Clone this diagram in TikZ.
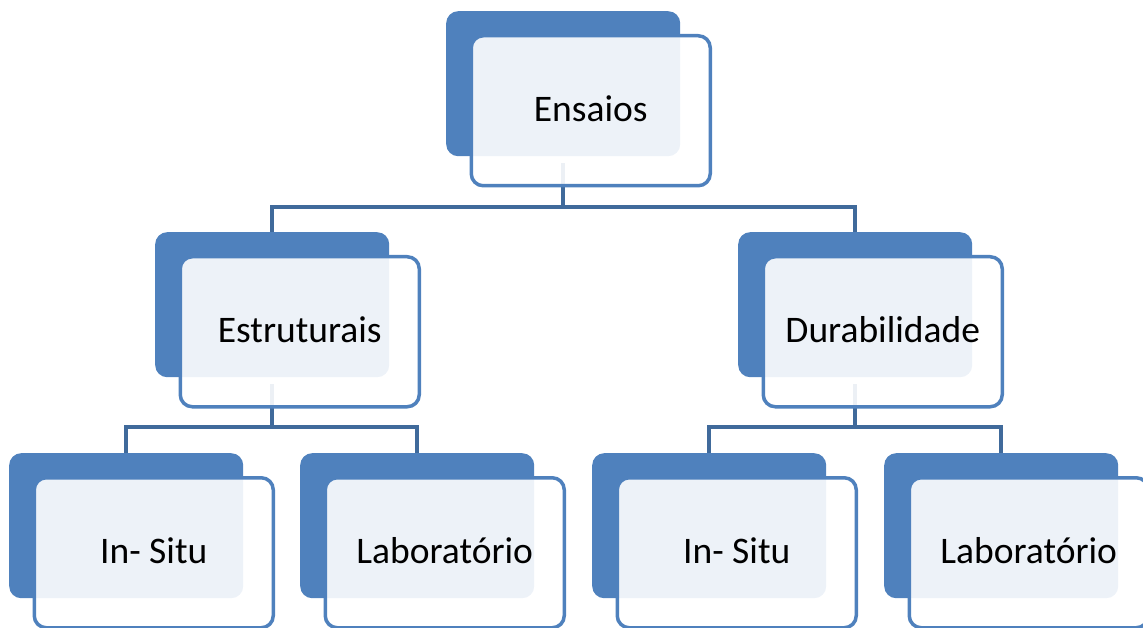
\documentclass[tikz,border=0pt]{standalone}
\usepackage{fontspec}
\setmainfont{Carlito}
\definecolor{accblue}{RGB}{79,129,189}
\definecolor{connblue}{RGB}{64,106,155}
\tikzset{
  backbox/.style={rectangle, rounded corners=12pt, fill=accblue, draw=none,
    minimum width=234pt, minimum height=145pt, anchor=north west, inner sep=0pt},
  frontbox/.style={rectangle, rounded corners=12pt, fill=white, fill opacity=0.9,
    text opacity=1, draw=accblue, line width=3.5pt,
    minimum width=239pt, minimum height=150pt, anchor=north west, inner sep=0pt,
    font=\fontsize{37.5}{44}\selectfont, text=black},
  frontlabel/.style={inner sep=0pt, font=\fontsize{37.5}{44}\selectfont, text=black},
  conn/.style={draw=connblue, line width=4.5pt}
}
\newcommand\sabox[4]{%
  \node[backbox] (#1b) at (#2,#3) {};
}
\newcommand\safront[4]{%
  \node[frontbox] (#1f) at (#2+23.5,#3+23) {};
  \node[frontlabel] (#1t) at ([yshift=2pt]#1f.center) {#4};
}
\begin{document}
\begin{tikzpicture}[x=1pt,y=-1pt]
\useasboundingbox (0,0) rectangle (1143,628);
% back rectangles
\sabox{e}{446}{11}{}
\sabox{s}{155}{232}{}
\sabox{d}{738}{232}{}
\sabox{a}{9}{453}{}
\sabox{b}{300}{453}{}
\sabox{c}{592}{453}{}
\sabox{f}{884}{453}{}
% bus levels
\coordinate (bus1) at (0,207);
\coordinate (bus2) at (0,427);
% connectors
\draw[conn] ([yshift=-7pt]eb.south) -- (eb.south |- bus1) -| (sb.north);
\draw[conn] (eb.south |- bus1) -| (db.north);
\draw[conn] ([yshift=-7pt]sb.south) -- (sb.south |- bus2) -| (ab.north);
\draw[conn] (sb.south |- bus2) -| (bb.north);
\draw[conn] ([yshift=-7pt]db.south) -- (db.south |- bus2) -| (cb.north);
\draw[conn] (db.south |- bus2) -| (fb.north);
% front rectangles
\safront{e}{446}{11}{Ensaios}
\safront{s}{155}{232}{Estruturais}
\safront{d}{738}{232}{Durabilidade}
\safront{a}{9}{453}{In- Situ}
\safront{b}{300}{453}{Laboratório}
\safront{c}{592}{453}{In- Situ}
\safront{f}{884}{453}{Laboratório}
\end{tikzpicture}
\end{document}
